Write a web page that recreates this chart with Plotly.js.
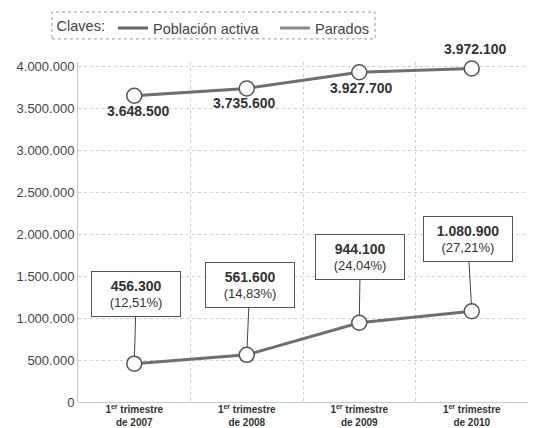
<!DOCTYPE html>
<html><head><meta charset="utf-8">
<script src="https://cdn.plot.ly/plotly-3.0.1.min.js"></script>
<style>html,body{margin:0;padding:0;background:#fff}#chart{width:534px;height:428px}</style>
</head><body><div id="chart"></div>
<script>
const categories = ['1<sup>er</sup> trimestre<br>de 2007', '1<sup>er</sup> trimestre<br>de 2008', '1<sup>er</sup> trimestre<br>de 2009', '1<sup>er</sup> trimestre<br>de 2010'];
const poblacionActiva = [3648500, 3735600, 3927700, 3972100];
const parados = [456300, 561600, 944100, 1080900];
const paradosPct = ['12,51%', '14,83%', '24,04%', '27,21%'];
const yTicks = [0, 500000, 1000000, 1500000, 2000000, 2500000, 3000000, 3500000, 4000000];

const fmt = v => v.toString().replace(/\B(?=(\d{3})+(?!\d))/g, '.');
const FONT = 'Liberation Sans, Arial, sans-serif';
const lineColor = '#6f6f6f';

const seriesTrace = (y, name) => ({
  x: categories, y: y, name: name, type: 'scatter', mode: 'lines+markers',
  showlegend: false, cliponaxis: false,
  line: {color: lineColor, width: 3},
  marker: {symbol: 'circle', size: 15, color: '#ffffff', line: {color: '#555555', width: 1.5}}
});
const legendTrace = (name, color) => ({
  x: [null], y: [null], name: name, type: 'scatter', mode: 'lines',
  line: {color: color, width: 3}, showlegend: true
});

const traces = [
  seriesTrace(poblacionActiva, 'Población activa'),
  seriesTrace(parados, 'Parados'),
  legendTrace('Población activa', '#666666'),
  legendTrace('Parados', '#8a8a8a')
];

const activaShiftY = [-15, -15, -16, 20];
const activaShiftX = [4, -3, 2, 3];
const annotations = [];
poblacionActiva.forEach((v, i) => {
  annotations.push({
    x: i, y: v, xref: 'x', yref: 'y', showarrow: false,
    text: '<b>' + fmt(v) + '</b>', xshift: activaShiftX[i], yshift: activaShiftY[i],
    font: {family: FONT, size: 14, color: '#333333'}
  });
});
const boxAx = [2, 3, 1, -4];
const boxAy = [-70, -70, -66, -72];
parados.forEach((v, i) => {
  annotations.push({
    x: i, y: v, xref: 'x', yref: 'y', showarrow: true, arrowhead: 0, arrowwidth: 1,
    arrowcolor: '#444444', standoff: 7, ax: boxAx[i], ay: boxAy[i],
    text: '<b><span style="font-size:14px">' + fmt(v) + '</span></b><br>(' + paradosPct[i] + ')',
    width: 80, height: 36, borderpad: 4, bordercolor: '#555555', borderwidth: 1,
    bgcolor: '#ffffff', align: 'center',
    font: {family: FONT, size: 13, color: '#333333'}
  });
});

const layout = {
  width: 534, height: 428,
  margin: {l: 78, r: 6, t: 62, b: 26},
  paper_bgcolor: '#ffffff', plot_bgcolor: '#ffffff',
  separators: ',.',
  font: {family: FONT, color: '#444444'},
  showlegend: true,
  legend: {
    orientation: 'h', x: -0.052, y: 1.147, xanchor: 'left', yanchor: 'top',
    title: {text: 'Claves:', side: 'left', font: {family: FONT, size: 14.5, color: '#444444'}},
    font: {family: FONT, size: 14.5, color: '#444444'},
    bgcolor: 'rgba(0,0,0,0)', borderwidth: 0, itemwidth: 30,
    entrywidth: 117, entrywidthmode: 'pixels'
  },
  xaxis: {
    type: 'category', range: [-0.5, 3.5], tickson: 'boundaries', ticks: '',
    showgrid: true, gridcolor: '#d0d0d0', griddash: 'dot', gridwidth: 1,
    showline: false, zeroline: false, fixedrange: true,
    tickfont: {family: FONT, size: 10, color: '#333333', weight: 'bold'}
  },
  yaxis: {
    range: [0, 4050000], tickvals: yTicks, tickformat: ',d',
    showgrid: true, gridcolor: '#d0d0d0', griddash: 'dot', gridwidth: 1,
    zeroline: true, zerolinecolor: '#c8c8c8', zerolinewidth: 1,
    showline: true, linecolor: '#c8c8c8', linewidth: 1, ticks: '',
    tickfont: {family: FONT, size: 13, color: '#444444'}
  },
  annotations: annotations,
  shapes: [{
    type: 'rect', xref: 'paper', yref: 'paper', x0: -0.058, x1: 0.66, y0: 1.068, y1: 1.147,
    line: {color: '#999999', width: 1, dash: 'dot'}
  }]
};

Plotly.newPlot('chart', traces, layout, {displayModeBar: false, staticPlot: true});
</script>
</body></html>
